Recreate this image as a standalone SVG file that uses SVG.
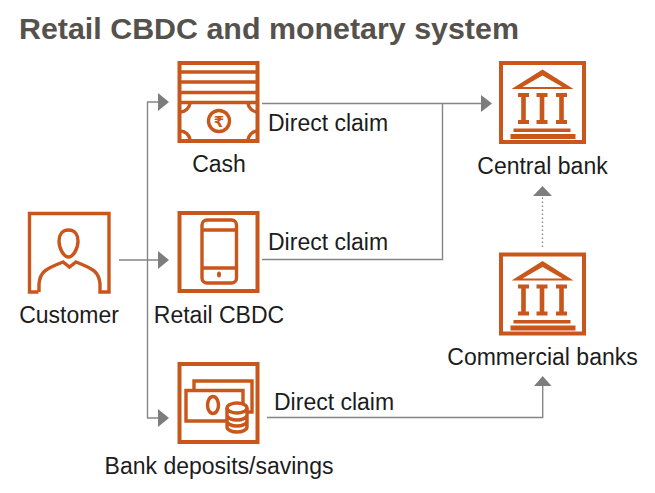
<svg xmlns="http://www.w3.org/2000/svg" width="655" height="493" viewBox="0 0 655 493">
<style>
.t{font-family:"Liberation Sans",Arial,sans-serif;font-size:23px;fill:#1c1c1c}
.i{fill:none;stroke:#c9561a;stroke-width:3.400}
.b{fill:none;stroke:#c9561a;stroke-width:4}
.f{fill:#c9561a}
.c{fill:none;stroke:#858585;stroke-width:1.4}
.a{fill:#7d7d7d}
</style>
<defs>
<g id="bank">
<rect class="b" x="-41.500" y="-39.500" width="83" height="79"/>
<path class="f" fill-rule="evenodd" d="M0-33L31-13.500H-31ZM0-27L-20-15.500H20Z"/>
<path class="f" d="M-24.500-9.500H-13.500V-5.500H-16.700V17.500H-13.500V21.500H-24.500V17.500H-21.300V-5.500H-24.500ZM-6-9.500H5V-5.500H1.800V17.500H5V21.500H-6V17.500H-2.800V-5.500H-6ZM13.500-9.500H24.500V-5.500H21.300V17.500H24.500V21.500H13.500V17.500H16.700V-5.500H13.500Z"/>
<rect class="f" x="-29" y="26" width="57" height="3.500"/>
<rect class="f" x="-32" y="31.500" width="65" height="5"/>
</g>
</defs>
<rect width="655" height="493" fill="#fff"/>
<text x="19" y="39" style="font-family:'Liberation Sans',Arial,sans-serif;font-size:30.400px;font-weight:bold;fill:#55514d">Retail CBDC and monetary system</text>
<g id="connectors">
<path class="c" d="M119 260H159M147.500 102V418M147 102H159M147 418H159"/>
<path class="a" d="M158 93L169 102L158 111ZM158 251L169 260L158 269ZM158 409L169 418L158 427Z"/>
<path class="c" d="M262 103.500H482M262 259.500H442.500V103.500"/>
<path class="a" d="M481 95L492 103.500L481 112Z"/>
<path class="c" d="M267 417.500H542.700V385"/>
<path class="a" d="M534 386L542.700 376L551.500 386Z"/>
<path d="M542.500 247V196" fill="none" stroke="#858585" stroke-width="1.300" stroke-dasharray="1.500 2.500"/>
<path class="a" d="M533 196L542.500 186L552 196Z"/>
</g>
<g id="customer">
<path class="i" d="M38.500 292H29.500V213.500H109V292H100V284C99 272 94 269 76 262L69.500 267L63 262C45 269 40 272 39 284V292"/>
<path class="i" d="M68.500 230C62 230 59 235 59 241C59 249 64 257 68.500 257C73 257 78 249 78 241C78 235 75 230 68.500 230Z"/>
<text class="t" x="69" y="323" text-anchor="middle">Customer</text>
</g>
<g id="cash">
<rect class="b" x="179.500" y="63" width="78" height="78"/>
<path class="i" d="M179 72H258M179 82H258M179 92.500H258M179 102.500H258"/>
<path class="i" d="M180 112A10 10 0 0 0 190 103M257 112A10 10 0 0 1 248 103M180 131A10 10 0 0 1 190 140M257 131A10 10 0 0 0 248 140"/>
<circle class="i" cx="219" cy="121" r="10.500"/>
<text x="219" y="127" text-anchor="middle" style="font-family:'DejaVu Sans',sans-serif;font-size:15px;font-weight:bold;fill:#c9561a">₹</text>
<text class="t" x="219" y="172" text-anchor="middle">Cash</text>
</g>
<g id="retail-cbdc">
<rect class="b" x="179.500" y="213" width="78" height="78"/>
<rect class="i" x="202" y="220" width="34.500" height="63" rx="5"/>
<path class="i" d="M202 230H236.500M202 268H236.500"/>
<ellipse class="f" cx="219" cy="274.500" rx="2" ry="3"/>
<text class="t" x="219" y="323" text-anchor="middle">Retail CBDC</text>
</g>
<g id="deposits">
<rect class="b" x="179.500" y="364" width="78" height="78"/>
<path class="i" d="M194 389V381H252V412H246"/>
<path class="i" d="M226 421H186V390.500H243V403"/>
<ellipse class="i" cx="213" cy="405" rx="5.500" ry="8.500"/>
<ellipse class="i" cx="237" cy="408" rx="10" ry="5"/>
<path class="i" d="M227 408V427C227 430 232 432 237 432C242 432 247 430 247 427V408M227 415C227 418 232 420 237 420C242 420 247 418 247 415M227 421C227 424 232 426 237 426C242 426 247 424 247 421"/>
<text class="t" x="219" y="474" text-anchor="middle">Bank deposits/savings</text>
</g>
<g id="central-bank">
<use href="#bank" x="542.500" y="102.500"/>
<text class="t" x="542.500" y="174" text-anchor="middle">Central bank</text>
</g>
<g id="commercial-banks">
<use href="#bank" x="542.500" y="294"/>
<text class="t" x="542.500" y="365" text-anchor="middle">Commercial banks</text>
</g>
<g id="labels">
<text class="t" x="268" y="131">Direct claim</text>
<text class="t" x="268" y="250">Direct claim</text>
<text class="t" x="274" y="410">Direct claim</text>
</g>
</svg>
